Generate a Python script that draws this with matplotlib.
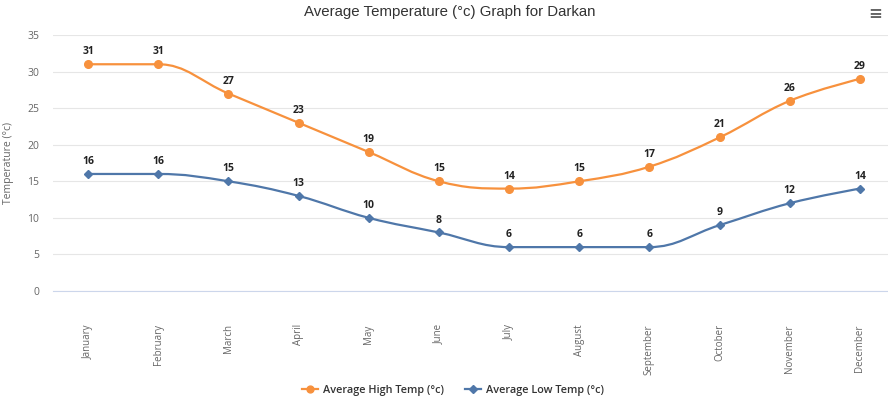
import numpy as np
import matplotlib
matplotlib.use("Agg")
import matplotlib.pyplot as plt
from matplotlib.path import Path
from matplotlib.patches import PathPatch
from matplotlib.lines import Line2D

months = ["January", "February", "March", "April", "May", "June", "July",
          "August", "September", "October", "November", "December"]
high_temp = [31, 31, 27, 23, 19, 15, 14, 15, 17, 21, 26, 29]
low_temp = [16, 16, 15, 13, 10, 8, 6, 6, 6, 9, 12, 14]

HIGH_COLOR = "#f7913d"
LOW_COLOR = "#4f77a9"


def spline_path(xs, ys, smoothing=1.5):
    # Highcharts-style spline: bezier control points per point
    n = len(xs)
    left = [(xs[i], ys[i]) for i in range(n)]
    right = [(xs[i], ys[i]) for i in range(n)]
    d = smoothing + 1
    for i in range(1, n - 1):
        px, py = xs[i - 1], ys[i - 1]
        x, y = xs[i], ys[i]
        nx, ny = xs[i + 1], ys[i + 1]
        lcx, lcy = (smoothing * x + px) / d, (smoothing * y + py) / d
        rcx, rcy = (smoothing * x + nx) / d, (smoothing * y + ny) / d
        corr = ((rcy - lcy) * (rcx - x)) / (rcx - lcx) + y - rcy
        lcy += corr
        rcy += corr
        if lcy > py and lcy > y:
            lcy = max(py, y)
            rcy = 2 * y - lcy
        elif lcy < py and lcy < y:
            lcy = min(py, y)
            rcy = 2 * y - lcy
        if rcy > ny and rcy > y:
            rcy = max(ny, y)
            lcy = 2 * y - rcy
        elif rcy < ny and rcy < y:
            rcy = min(ny, y)
            lcy = 2 * y - rcy
        left[i] = (lcx, lcy)
        right[i] = (rcx, rcy)
    verts = [(xs[0], ys[0])]
    codes = [Path.MOVETO]
    for i in range(1, n):
        verts += [right[i - 1], left[i], (xs[i], ys[i])]
        codes += [Path.CURVE4] * 3
    return Path(verts, codes)


fig = plt.figure(figsize=(8.88, 4.01), dpi=100)
ax = fig.add_axes([53 / 888, 110 / 401, 842 / 888, 256 / 401])

x = np.arange(len(months))
series = [(high_temp, HIGH_COLOR, "o", 5.5, "Average High Temp (°c)"),
          (low_temp, LOW_COLOR, "D", 4, "Average Low Temp (°c)")]
for vals, color, marker, ms, label in series:
    ax.add_patch(PathPatch(spline_path(x, vals), fill=False, edgecolor=color,
                           lw=1.6, zorder=3))
    ax.plot(x, vals, ls="none", marker=marker, ms=ms, color=color, zorder=4)
    for xi, v in zip(x, vals):
        ax.annotate(str(v), (xi, v), xytext=(0, 5), textcoords="offset points",
                    ha="center", va="bottom", fontsize=7.5, fontweight="bold",
                    color="#222222", family="Open Sans")

ax.set_xlim(-0.5, len(months) - 0.5)
ax.set_ylim(0, 35)
ax.set_yticks(range(0, 36, 5))
ax.set_xticks(x)
ax.set_xticklabels(months, rotation=90, family="Open Sans", fontsize=7,
                   color="#666666")
for lab in ax.get_yticklabels():
    lab.set_family("Open Sans")
ax.tick_params(axis="y", length=0, pad=10, labelsize=7.5, labelcolor="#666666")
ax.tick_params(axis="x", length=0, pad=24)
ax.grid(axis="y", color="#e6e6e6", lw=0.8)
ax.set_axisbelow(True)
for s in ["top", "right", "left"]:
    ax.spines[s].set_visible(False)
ax.spines["bottom"].set_color("#ccd6eb")
ax.spines["bottom"].set_linewidth(0.8)

ax.set_ylabel("Temperature (°c)", family="Open Sans", fontsize=7.5,
              color="#666666")
ax.yaxis.set_label_coords(-0.046, 0.5)

fig.text(0.507, 0.97, "Average Temperature (°c) Graph for Darkan",
         ha="center", va="center", fontsize=10.8, color="#333333",
         family="Liberation Sans")
fig.text(0.993, 0.965, "≡", ha="right", va="center", fontsize=12,
         color="#666666", fontweight="bold")

handles = [Line2D([], [], color=c, marker=m, ms=ms * 0.9, lw=1.6)
           for _, c, m, ms, _ in series]
fig.legend(handles, [s[4] for s in series], loc="center",
           bbox_to_anchor=(0.51, 0.027), ncol=2, frameon=False,
           prop={"family": "Open Sans", "size": 7.8, "weight": "semibold"},
           handlelength=1.5, handletextpad=0.4, columnspacing=2.0,
           labelcolor="#333333")

fig.savefig("out.png", dpi=100, facecolor="white")
